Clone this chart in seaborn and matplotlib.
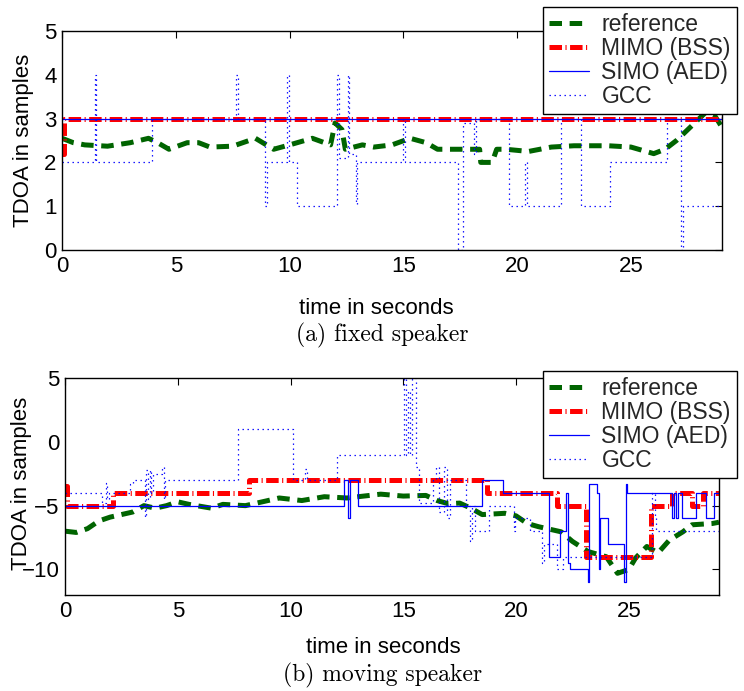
import numpy as np
import pandas as pd
import seaborn as sns
import matplotlib.pyplot as plt

# ================
# DATA
# ================

# (a) fixed speaker
t_ref_a = [0, 0.5, 1, 2, 3, 3.8, 4.2, 4.7, 5.5, 6, 6.5, 7.5, 8.5, 9.3, 10, 11,
           11.8, 12.0, 12.3, 12.45, 13.2, 13.7, 14.5, 15.3, 16, 16.5, 17.5,
           18.35, 18.4, 18.9, 19.1, 19.5, 20.5, 21.5, 22.5, 24, 25, 26, 26.5,
           27, 27.7, 28.3, 28.7, 29]
ref_a = [2.55, 2.45, 2.4, 2.37, 2.45, 2.55, 2.45, 2.3, 2.45, 2.45, 2.35, 2.37,
         2.55, 2.3, 2.4, 2.55, 2.4, 2.9, 2.75, 2.3, 2.4, 2.35, 2.4, 2.55, 2.45,
         2.3, 2.3, 2.3, 2.0, 2.0, 2.3, 2.3, 2.25, 2.35, 2.38, 2.38, 2.35, 2.2,
         2.3, 2.5, 2.85, 3.15, 3.05, 2.8]

t_mimo_a = [0, 0.08, 29]
mimo_a = [2.2, 3, 3]

t_simo_a = [0, 29]
simo_a = [3, 3]

t_gcc_a = [0, 1.43, 1.5, 3.95, 7.65, 7.72, 8.94, 9.0, 9.9, 9.97, 10.33, 12.1,
           12.15, 12.55, 12.62, 12.93, 12.98, 15.0, 15.05, 17.38, 17.6, 18.1,
           18.2, 19.65, 20.35, 20.45, 21.92, 22.8, 24.1, 26.6, 27.22, 27.3, 29]
gcc_a = [2, 4, 2, 3, 4, 3, 1, 2, 4, 2, 1, 4, 2.1, 4, 2.2, 1.05, 2, 3, 2, 0,
         2.9, 2.2, 3, 1, 2, 1, 3, 1, 2, 3, 0, 1, 1]

# (b) moving speaker
t_ref_b = [0, 0.5, 1, 1.5, 2, 3, 3.5, 4, 4.5, 5, 5.5, 6.5, 7, 8, 8.5, 9.5,
           10.5, 11.5, 12.5, 13, 14, 15, 16, 16.5, 17, 17.5, 18, 18.5, 19.5,
           20, 20.5, 21, 22, 22.5, 23.2, 24, 24.5, 25, 25.3, 25.8, 26.3, 26.8,
           27.4, 27.8, 28.7, 29]
ref_b = [-7.0, -7.1, -6.8, -6.2, -5.9, -5.5, -5.0, -5.2, -5.0, -4.7, -4.9,
         -5.2, -4.9, -5.0, -4.8, -4.4, -4.6, -4.3, -4.4, -4.3, -4.1, -4.25,
         -4.2, -4.6, -4.85, -4.8, -5.2, -5.7, -5.6, -5.8, -6.4, -6.65, -7.05,
         -7.8, -8.6, -9.0, -10.3, -10.0, -9.1, -8.2, -8.7, -7.7, -7.05, -6.5,
         -6.4, -6.3]

t_mimo_b = [0, 0.1, 2.15, 8.15, 18.7, 21.8, 23.1, 26.0, 26.9, 27.8, 28.3, 29]
mimo_b = [-3.5, -5, -4, -3, -4, -5, -9, -5, -4, -5, -4, -4]

t_simo_b = [0, 12.38, 12.55, 12.62, 13.0, 18.47, 19.42, 21.46, 21.93, 22.23,
            22.3, 22.4, 23.18, 23.23, 23.6, 23.68, 23.72, 24.07, 24.8, 24.86,
            24.92, 26.9, 27.0, 27.1, 27.2, 27.35, 28.0, 28.42, 28.8, 29]
simo_b = [-5, -3, -6, -3, -5, -3, -4, -9, -7, -4, -9.5, -10, -11, -3.3, -4,
          -10, -6, -8, -11, -3.3, -4, -6, -4, -6, -4, -6, -4, -6, -4, -4]

t_gcc_b = [0, 1.62, 1.8, 1.85, 1.95, 2.9, 3.0, 3.55, 3.6, 3.68, 3.75, 3.82,
           3.88, 4.3, 4.38, 4.45, 7.65, 10.1, 10.65, 10.72, 12.08, 15.05, 15.1,
           15.2, 15.3, 15.4, 15.55, 15.68, 16.3, 16.45, 16.6, 16.8, 16.95,
           17.05, 17.8, 17.95, 18.05, 18.2, 18.8, 19.9, 19.95, 20.6, 21.15,
           21.25, 21.8, 22.1, 26.05, 26.15, 26.2, 29]
gcc_b = [-4, -4.8, -3.2, -4.5, -4, -3.3, -3, -5.9, -2.2, -4.5, -2.2, -4, -2.5,
         -2, -4.5, -3, 1, -3, -2.1, -3, -1, 5, -1, 4, -1, 5, -2, -4.8, -3, -2,
         -5.5, -2, -6, -3, -5, -7.8, -5, -7, -5, -7, -6, -7, -9.5, -8, -10,
         -9, -4, -6, -7, -7]

labels = ['reference', 'MIMO (BSS)', 'SIMO (AED)', 'GCC']
xticks = [0, 5, 10, 15, 20, 25]
yticks_a = [0, 1, 2, 3, 4, 5]
yticks_b = [-10, -5, 0, 5]

# ================
# PLOTTING
# ================

sns.set_theme(style="white")
plt.rcParams['font.family'] = ['Liberation Sans', 'DejaVu Sans']
plt.rcParams['lines.scale_dashes'] = False
plt.rcParams['xtick.direction'] = 'in'
plt.rcParams['ytick.direction'] = 'in'
plt.rcParams['xtick.top'] = True
plt.rcParams['ytick.right'] = True

FS = 16        # ticks and axis labels
FS_LEG = 16.5  # legend

fig = plt.figure(figsize=(7.44, 6.91), dpi=100)
ax_a = fig.add_axes([62 / 744, 1 - 250 / 691, 660 / 744, 219 / 691])
ax_b = fig.add_axes([65 / 744, 1 - 595 / 691, 654 / 744, 217 / 691])


def draw_panel(ax, t_ref, ref, t_mimo, mimo, t_simo, simo, t_gcc, gcc):
    sns.lineplot(x=t_ref, y=ref, ax=ax, color='#006400', lw=3.6,
                 linestyle=(0, (9, 5.5)), label=labels[0], sort=False, estimator=None)
    sns.lineplot(x=t_mimo, y=mimo, ax=ax, color='red', lw=3.6, drawstyle='steps-post',
                 linestyle=(0, (9, 2.5, 0.8, 2.5)), label=labels[1], sort=False, estimator=None)
    sns.lineplot(x=t_simo, y=simo, ax=ax, color='blue', lw=0.9, drawstyle='steps-post',
                 label=labels[2], sort=False, estimator=None)
    sns.lineplot(x=t_gcc, y=gcc, ax=ax, color='blue', lw=0.9, drawstyle='steps-post',
                 linestyle=(0, (1, 2.6)), label=labels[3], sort=False, estimator=None)


draw_panel(ax_a, t_ref_a, ref_a, t_mimo_a, mimo_a, t_simo_a, simo_a, t_gcc_a, gcc_a)
draw_panel(ax_b, t_ref_b, ref_b, t_mimo_b, mimo_b, t_simo_b, simo_b, t_gcc_b, gcc_b)

for ax, yt, ylim, leg_top in [(ax_a, yticks_a, (0, 5), 7), (ax_b, yticks_b, (-12, 5), 371)]:
    ax.set_xlim(0, 29)
    ax.set_ylim(*ylim)
    ax.set_xticks(xticks)
    ax.set_yticks(yt)
    ax.tick_params(labelsize=FS, length=5, width=0.8, colors='black', pad=4)
    for s in ax.spines.values():
        s.set_color('black')
        s.set_linewidth(1.0)
    ax.set_ylabel('TDOA in samples', fontsize=FS, color='black')
    ax.set_xlabel('time in seconds', fontsize=FS, color='black')
    leg = ax.legend(loc='upper left', bbox_to_anchor=(543 / 744, 1 - leg_top / 691),
                    bbox_transform=fig.transFigure, fontsize=FS_LEG, frameon=True,
                    fancybox=False, framealpha=1, edgecolor='black', borderaxespad=0,
                    handlelength=1.75, handletextpad=0.55, labelspacing=0.05, borderpad=0.25)
    leg.get_frame().set_linewidth(1.0)

# label positions in figure pixels (matching the original layout)
ax_a.yaxis.set_label_coords(34 / 744, 1 - 140 / 691, transform=fig.transFigure)
ax_b.yaxis.set_label_coords(32 / 744, 1 - 483 / 691, transform=fig.transFigure)
ax_a.xaxis.set_label_coords(376 / 744, 1 - 298 / 691, transform=fig.transFigure)
ax_b.xaxis.set_label_coords(383 / 744, 1 - 637 / 691, transform=fig.transFigure)

fig.text(382 / 744, 1 - 335 / 691, '(a) fixed speaker', family='cmr10', fontsize=17,
         ha='center', va='center', color='black')
fig.text(383 / 744, 1 - 675 / 691, '(b) moving speaker', family='cmr10', fontsize=17,
         ha='center', va='center', color='black')

plt.savefig('out.png', dpi=100)
plt.close()
